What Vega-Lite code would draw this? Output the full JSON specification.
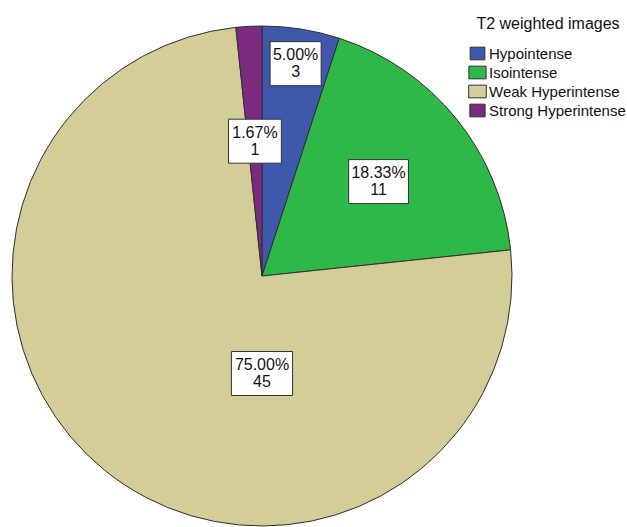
{
  "$schema": "https://vega.github.io/schema/vega-lite/v6.json",
  "width": 500,
  "height": 500,
  "autosize": {"type": "none"},
  "padding": {"left": 12, "top": 26, "right": 115, "bottom": 1},
  "background": "white",
  "config": {
    "view": {"stroke": null},
    "font": "Liberation Sans",
    "legend": {
      "titleFont": "Liberation Sans",
      "labelFont": "Liberation Sans"
    }
  },
  "data": {
    "values": [
      {"category": "Hypointense", "count": 3},
      {"category": "Isointense", "count": 11},
      {"category": "Weak Hyperintense", "count": 45},
      {"category": "Strong Hyperintense", "count": 1}
    ]
  },
  "transform": [
    {
      "window": [
        {"op": "row_number", "as": "idx"},
        {"op": "sum", "field": "count", "as": "cum"}
      ],
      "frame": [null, 0]
    },
    {"joinaggregate": [{"op": "sum", "field": "count", "as": "total"}]},
    {"calculate": "datum.count / datum.total", "as": "share"},
    {"calculate": "2 * PI * (datum.cum - datum.count / 2) / datum.total", "as": "mid"},
    {"calculate": "datum.share > 0.5 ? PI : datum.mid", "as": "labelAngle"},
    {"calculate": "datum.share > 0.5 ? 0.39 : datum.share > 0.1 ? 0.6 : (datum.idx % 2 == 1 ? 0.86 : 0.54)", "as": "labelRadius"},
    {"calculate": "datum.labelRadius * sin(datum.labelAngle)", "as": "lx"},
    {"calculate": "datum.labelRadius * cos(datum.labelAngle)", "as": "ly"},
    {"calculate": "[format(datum.share, '.2%'), '' + datum.count]", "as": "label"}
  ],
  "layer": [
    {
      "mark": {"type": "arc", "stroke": "#2f2f2f", "strokeWidth": 1},
      "encoding": {
        "theta": {"field": "count", "type": "quantitative", "stack": true},
        "order": {"field": "idx", "type": "quantitative"},
        "color": {
          "field": "category",
          "type": "nominal",
          "scale": {
            "domain": ["Hypointense", "Isointense", "Weak Hyperintense", "Strong Hyperintense"],
            "range": ["#3E58AC", "#2EB848", "#D3CE97", "#7B2A7F"]
          },
          "legend": {
            "title": "T2 weighted images",
            "orient": "none",
            "legendX": 458,
            "legendY": -10,
            "titleAnchor": "middle",
            "titleFontSize": 16,
            "titleFontWeight": "normal",
            "titleColor": "#111111",
            "titlePadding": 14,
            "labelFontSize": 15,
            "labelColor": "#111111",
            "labelOffset": 4,
            "symbolType": "square",
            "symbolSize": 161,
            "symbolStrokeColor": "#333333",
            "symbolStrokeWidth": 1,
            "symbolOpacity": 1,
            "rowPadding": 2,
            "padding": 0
          }
        }
      }
    },
    {
      "mark": {"type": "point", "filled": true, "fill": "white", "stroke": "#333333", "strokeWidth": 1, "opacity": 1},
      "encoding": {
        "x": {"field": "lx", "type": "quantitative", "scale": {"domain": [-1, 1], "nice": false, "zero": false}, "axis": null},
        "y": {"field": "ly", "type": "quantitative", "scale": {"domain": [-1, 1], "nice": false, "zero": false}, "axis": null},
        "shape": {
          "field": "category",
          "type": "nominal",
          "scale": {
            "domain": ["Hypointense", "Isointense", "Weak Hyperintense", "Strong Hyperintense"],
            "range": [
              "M-1.16,-1H1.16V1H-1.16Z",
              "M-1.36,-1H1.36V1H-1.36Z",
              "M-1.39,-1H1.39V1H-1.39Z",
              "M-1.2,-1H1.2V1H-1.2Z"
            ]
          },
          "legend": null
        },
        "size": {"value": 1936}
      }
    },
    {
      "mark": {"type": "text", "fontSize": 16, "lineHeight": 17, "color": "#111111", "align": "center", "baseline": "middle", "dy": -8.5},
      "encoding": {
        "x": {"field": "lx", "type": "quantitative"},
        "y": {"field": "ly", "type": "quantitative"},
        "text": {"field": "label"}
      }
    }
  ]
}
